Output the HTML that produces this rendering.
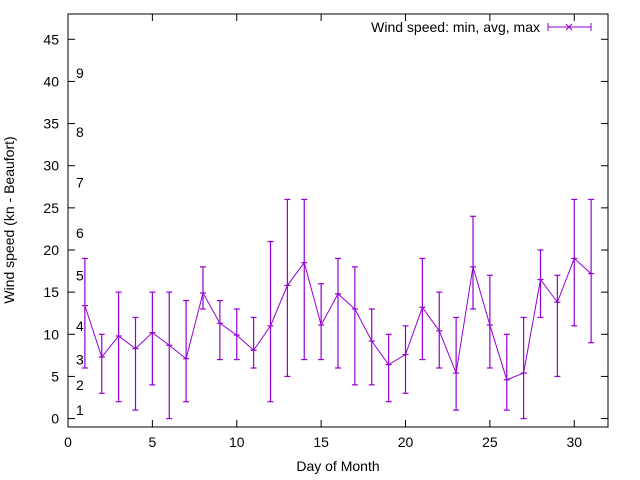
<!DOCTYPE html>
<html><head><meta charset="utf-8"><style>
body{margin:0;background:#fff}
svg{display:block;font-family:"Liberation Sans",sans-serif;font-size:14px}
</style></head><body>
<svg id="c" width="640" height="480">
<rect x="68" y="14" width="540" height="413" fill="none" stroke="#000"/>
<g id="ax"></g><g id="bf"></g><g id="ser"></g>
<text x="14" y="220" transform="rotate(-90 14 220)" text-anchor="middle">Wind speed (kn - Beaufort)</text>
<text x="338" y="471" text-anchor="middle">Day of Month</text>
<g>
<text x="540" y="32" text-anchor="end">Wind speed: min, avg, max</text>
<g stroke="#9400d3"><line x1="548" y1="27" x2="591" y2="27"/><line x1="548" y1="23" x2="548" y2="31"/><line x1="591" y1="23" x2="591" y2="31"/><line x1="566" y1="24" x2="572" y2="30"/><line x1="566" y1="30" x2="572" y2="24"/></g>
</g>
</svg>
<script>
const days=[1,2,3,4,5,6,7,8,9,10,11,12,13,14,15,16,17,18,19,20,21,22,23,24,25,26,27,28,29,30,31];
const avgs=[13.4,7.3,9.8,8.3,10.2,8.7,7.1,14.9,11.3,9.9,8.1,11,15.8,18.5,11.1,14.8,13,9.2,6.4,7.6,13.2,10.4,5.4,18,11.1,4.6,5.4,16.5,13.8,19,17.2];
const maxs=[19,10,15,12,15,15,14,18,14,13,12,21,26,26,16,19,18,13,10,11,19,15,12,24,17,10,12,20,17,26,26];
const mins=[6,3,2,1,4,0,2,13,7,7,6,2,5,7,7,6,4,4,2,3,7,6,1,13,6,1,0,12,5,11,9];
const xTicks=[0,5,10,15,20,25,30];
const yTicks=[0,5,10,15,20,25,30,35,40,45];
const bfLabels=["1","2","3","4","5","6","7","8","9"];
const bfValues=[1,4,7,11,17,22,28,34,41];
const X=v=>68+v*540/32, Y=v=>427-(v+1)*413/49;
const NS="http://www.w3.org/2000/svg";
function mk(p,t,a){const e=document.createElementNS(NS,t);for(const k in a)e.setAttribute(k,a[k]);p.appendChild(e);return e;}
const ax=document.getElementById('ax');
xTicks.forEach(v=>{const g=mk(ax,'g',{});


mk(g,'line',{x1:X(v),x2:X(v),y1:427,y2:420,stroke:'#000'});mk(g,'line',{x1:X(v),x2:X(v),y1:14,y2:21,stroke:'#000'});
const t=mk(g,'text',{x:X(v),y:447,'text-anchor':'middle'});t.textContent=v;});
yTicks.forEach(v=>{const g=mk(ax,'g',{});


mk(g,'line',{x1:68,x2:75,y1:Y(v),y2:Y(v),stroke:'#000'});mk(g,'line',{x1:601,x2:608,y1:Y(v),y2:Y(v),stroke:'#000'});
const t=mk(g,'text',{x:59,y:Y(v)+5,'text-anchor':'end'});t.textContent=v;});
const bf=document.getElementById('bf');
bfLabels.forEach((l,i)=>{const t=mk(bf,'text',{x:76,y:Y(bfValues[i])+5});


t.textContent=l;});
const s=document.getElementById('ser');
const pl=mk(s,'polyline',{points:days.map((d,i)=>X(d)+','+Y(avgs[i])).join(' '),fill:'none',stroke:'#9400d3'});


days.forEach((d,i)=>{const g=mk(s,'g',{stroke:'#9400d3','stroke-width':1.2});


const x=X(d);mk(g,'line',{x1:x,x2:x,y1:Y(mins[i]),y2:Y(maxs[i])});
mk(g,'line',{x1:x-3,x2:x+3,y1:Y(mins[i]),y2:Y(mins[i])});
mk(g,'line',{x1:x-3,x2:x+3,y1:Y(maxs[i]),y2:Y(maxs[i])});
mk(g,'line',{x1:x-3,x2:x+3,y1:Y(avgs[i]),y2:Y(avgs[i])});});
</script>
</body></html>
